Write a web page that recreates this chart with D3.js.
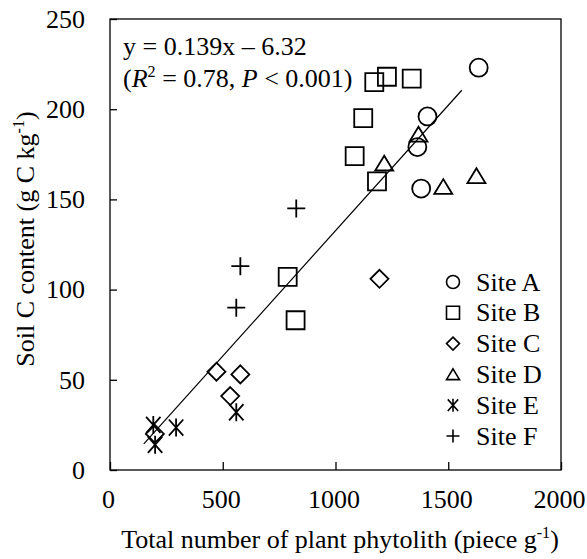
<!doctype html>
<meta charset="utf8">
<style>
  body { margin: 0; background: #fff; }
  svg text { font-family: "Liberation Serif", "Times New Roman", serif; fill: #000; }
</style>

<body>
<div id="chart"></div>

<script src="https://d3js.org/d3.v7.min.js"></script>

<script>
(function() {

// values: [plant phytolith, soil C]
const siteA = [[1635, 223], [1408, 196], [1363, 179], [1380, 156]];
const siteB = [[1172, 215], [1228, 218], [1338, 217], [1123, 195], [1085, 174], [1184, 160], [788, 107], [823, 83]];
const siteC = [[1195, 106], [472, 54.5], [578, 53], [533, 41], [199, 20]];
const siteD = [[1368, 186], [1216, 170], [1478, 157], [1625, 163]];
const siteE = [[192, 25], [200, 14], [293, 23.5], [560, 32]];
const siteF = [[826, 145], [578, 113], [560, 90]];

const siteNames = ["Site A", "Site B", "Site C", "Site D", "Site E", "Site F"];
const siteShapes = ["circle", "square", "diamond", "triangle", "star", "plus"];

// fitted line y = 0.139x - 6.32, end points as drawn
const fitX = [150, 1560];
const fitY = [14.5, 210.5];

const xTicks = [0, 500, 1000, 1500, 2000];
const yTicks = [0, 50, 100, 150, 200, 250];

const WIDTH = 587;
const HEIGHT = 559;
const margin = {top: 19, right: 26, bottom: 89, left: 110};
const FONT = 26;
const SERIF = '"Liberation Serif", "Times New Roman", serif';

const svg = d3.select("#chart").append("svg")
  .attr("width", WIDTH)
  .attr("height", HEIGHT)
  .attr("font-family", SERIF);

const x = d3.scaleLinear()
  .domain([0, 2000])
  .range([margin.left, WIDTH - margin.right]);

const y = d3.scaleLinear()
  .domain([0, 250])
  .range([HEIGHT - margin.bottom, margin.top]);

function shapePath(shape, h) {
  switch (shape) {
    case "circle":
      return `M${-h},0A${h},${h} 0 1,0 ${h},0A${h},${h} 0 1,0 ${-h},0Z`;
    case "square":
      return `M${-h},${-h}H${h}V${h}H${-h}Z`;
    case "diamond":
      return `M0,${-h}L${h},0L0,${h}L${-h},0Z`;
    case "triangle":
      return `M0,${-h * 0.85}L${h},${h * 0.8}L${-h},${h * 0.8}Z`;
    case "star":
      return `M0,${-h}V${h}M${-h * 0.8},${-h * 0.9}L${h * 0.8},${h * 0.9}M${h * 0.8},${-h * 0.9}L${-h * 0.8},${h * 0.9}`;
    case "plus":
      return `M${-h},0H${h}M0,${-h}V${h}`;
  }
}

// axes, ticks pointing inside
const xAxis = svg.append("g")
  .attr("transform", `translate(0,${y(0)})`)
  .call(d3.axisBottom(x).tickValues(xTicks).tickFormat(d3.format("d"))
    .tickSizeInner(-8).tickSizeOuter(0).tickPadding(20));

const yAxis = svg.append("g")
  .attr("transform", `translate(${x(0)},0)`)
  .call(d3.axisLeft(y).tickValues(yTicks).tickFormat(d3.format("d"))
    .tickSizeInner(-7).tickSizeOuter(0).tickPadding(25));

for (let axis of [xAxis, yAxis]) {
  axis.attr("font-family", SERIF).attr("font-size", FONT);
  axis.select(".domain").remove();
  axis.selectAll("line").attr("stroke", "#000").attr("stroke-width", 1.3);
  axis.selectAll("text")
    .style("font-family", SERIF)
    .attr("font-size", FONT)
    .attr("fill", "#000");
}
xAxis.selectAll("text").attr("dx", -2);

// frame
svg.append("rect")
  .attr("x", x(0))
  .attr("y", y(250))
  .attr("width", x(2000) - x(0))
  .attr("height", y(0) - y(250))
  .attr("fill", "none")
  .attr("stroke", "#000")
  .attr("stroke-width", 1.3);

// fitted line
svg.append("line")
  .attr("x1", x(fitX[0]))
  .attr("y1", y(fitY[0]))
  .attr("x2", x(fitX[1]))
  .attr("y2", y(fitY[1]))
  .attr("stroke", "#000")
  .attr("stroke-width", 1.2);

// points
const allSites = [siteA, siteB, siteC, siteD, siteE, siteF];

allSites.forEach((points, i) => {
  svg.append("g")
    .selectAll("path")
    .data(points)
    .join("path")
      .attr("transform", d => `translate(${x(d[0])},${y(d[1])})`)
      .attr("d", shapePath(siteShapes[i], 9))
      .attr("fill", "none")
      .attr("stroke", "#000")
      .attr("stroke-width", 1.8);
});

// legend
const legend = svg.append("g")
  .attr("transform", "translate(453,282)");

const rows = legend.selectAll("g")
  .data(siteNames)
  .join("g")
    .attr("transform", (d, i) => `translate(0,${i * 30.8})`);

rows.append("path")
  .attr("d", (d, i) => shapePath(siteShapes[i], 6.5))
  .attr("fill", "none")
  .attr("stroke", "#000")
  .attr("stroke-width", 1.6);

rows.append("text")
  .attr("x", 23)
  .attr("dy", "0.33em")
  .attr("font-size", FONT)
  .text(d => d);

// equation
const eq = svg.append("g")
  .attr("font-size", FONT);

eq.append("text")
  .attr("x", 123)
  .attr("y", 55)
  .text("y = 0.139x \u2013 6.32");

const stats = eq.append("text")
  .attr("x", 123)
  .attr("y", 87);
stats.append("tspan").text("(");
stats.append("tspan").attr("font-style", "italic").text("R");
stats.append("tspan").attr("font-size", FONT * 0.62).attr("dy", -10).text("2");
stats.append("tspan").attr("dy", 10).text(" = 0.78, ");
stats.append("tspan").attr("font-style", "italic").text("P");
stats.append("tspan").text(" < 0.001)");

// axis titles
const xTitle = svg.append("text")
  .attr("x", 340)
  .attr("y", 548)
  .attr("text-anchor", "middle")
  .attr("font-size", FONT);
xTitle.append("tspan").text("Total number of plant phytolith (piece g");
xTitle.append("tspan").attr("font-size", FONT * 0.62).attr("dy", -10).text("-1");
xTitle.append("tspan").attr("dy", 10).text(")");

const yTitle = svg.append("text")
  .attr("transform", "translate(34,239) rotate(-90)")
  .attr("text-anchor", "middle")
  .attr("font-size", FONT);
yTitle.append("tspan").text("Soil C content (g C kg");
yTitle.append("tspan").attr("font-size", FONT * 0.62).attr("dy", -10).text("-1");
yTitle.append("tspan").attr("dy", 10).text(")");

})();
</script>
